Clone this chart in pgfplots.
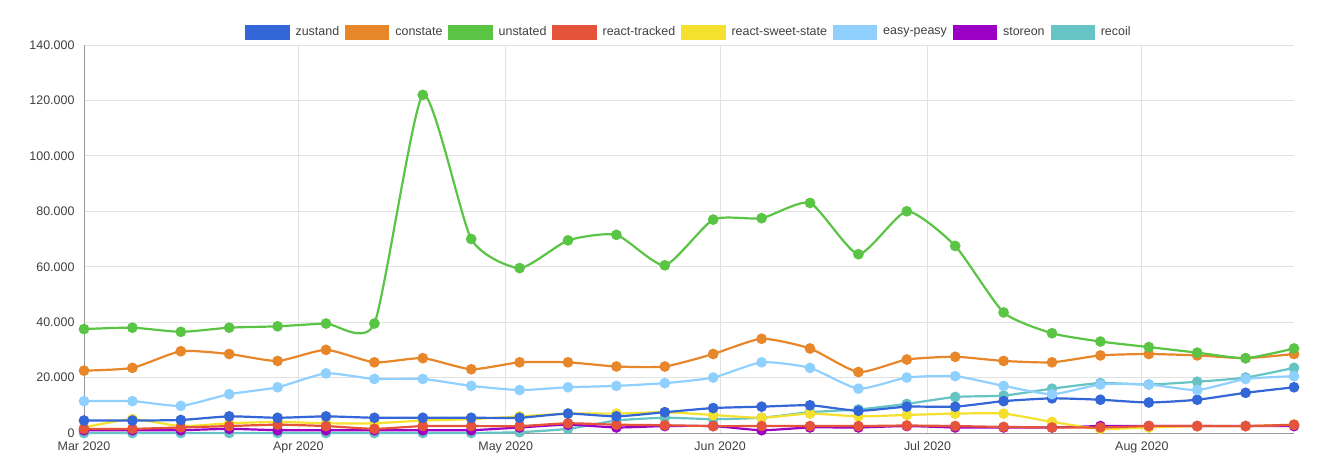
\documentclass[border=0pt]{standalone}
\usepackage{pgfplots}
\pgfplotsset{compat=1.18}
\usepackage{fontspec}
\setmainfont{Liberation Sans}
\definecolor{cz}{HTML}{3366D6}
\definecolor{cc}{HTML}{E8862A}
\definecolor{cu}{HTML}{5AC544}
\definecolor{ct}{HTML}{E5533A}
\definecolor{cs}{HTML}{F5E02E}
\definecolor{ce}{HTML}{8FD0FF}
\definecolor{co}{HTML}{9B00C5}
\definecolor{cr}{HTML}{66C4C4}
\definecolor{gr}{HTML}{E2E2E2}
\begin{document}
\begin{tikzpicture}
\begin{axis}[
  scale only axis, width=1210bp, height=388bp,
  xmin=0, xmax=175, ymin=0, ymax=140,
  xtick={0,31,61,92,122,153},
  xticklabels={Mar 2020,Apr 2020,May 2020,Jun 2020,Jul 2020,Aug 2020},
  ytick={0,20,40,60,80,100,120,140},
  yticklabels={0,20.000,40.000,60.000,80.000,100.000,120.000,140.000},
  ticklabel style={font=\fontsize{12.5}{14}\selectfont, text=black!75},
  xticklabel style={text height=9bp, text depth=3bp, yshift=-5bp},
  yticklabel style={xshift=-6bp},
  grid=major, grid style={gr, line width=0.8bp},
  axis line style={black!40}, axis x line*=bottom, axis y line*=left,
  major tick length=0pt,
  clip=false,
  every axis plot/.append style={smooth, tension=0.35, line width=2.2bp, mark=*, mark size=4.2bp, mark options={draw=white, line width=0.8bp}},
  legend columns=8,
  legend style={at={(0.5,1)}, anchor=south, yshift=3bp, draw=none, font=\fontsize{12.5}{14}\selectfont, text=black!75, column sep=4bp,
    nodes={inner xsep=2bp}},
  legend image code/.code={\fill (0bp,-6.5bp) rectangle (42bp,6.5bp);},
]
\addlegendimage{cz, fill=cz}\addlegendentry{zustand}
\addlegendimage{cc, fill=cc}\addlegendentry{constate}
\addlegendimage{cu, fill=cu}\addlegendentry{unstated}
\addlegendimage{ct, fill=ct}\addlegendentry{react-tracked}
\addlegendimage{cs, fill=cs}\addlegendentry{react-sweet-state}
\addlegendimage{ce, fill=ce}\addlegendentry{easy-peasy}
\addlegendimage{co, fill=co}\addlegendentry{storeon}
\addlegendimage{cr, fill=cr}\addlegendentry{recoil}
% recoil
\addplot[cr, forget plot, mark options={fill=cr}] coordinates {(0,0)(7,0)(14,0)(21,0)(28,0)(35,0)(42,0)(49,0)(56,0)(63,0.3)(70,1.5)(77,4.5)(84,5.5)(91,5)(98,5.5)(105,7.5)(112,8.5)(119,10.5)(126,13)(133,13.5)(140,16)(147,18)(154,17.5)(161,18.5)(168,20)(175,23.5)};
% storeon
\addplot[co, forget plot, mark options={fill=co}] coordinates {(0,1)(7,1)(14,1)(21,1.5)(28,1)(35,1)(42,1)(49,1)(56,1)(63,2)(70,3)(77,2)(84,2.5)(91,2.5)(98,1)(105,2)(112,2)(119,2.5)(126,2)(133,2)(140,2)(147,2.5)(154,2.5)(161,2.5)(168,2.5)(175,2.5)};
% react-sweet-state
\addplot[cs, forget plot, mark options={fill=cs}] coordinates {(0,2)(7,5)(14,2.5)(21,3.5)(28,4)(35,3.5)(42,3.5)(49,4.5)(56,5)(63,6)(70,7)(77,7)(84,7.5)(91,6.5)(98,5.5)(105,7)(112,6)(119,6.5)(126,7)(133,7)(140,4)(147,1.5)(154,2)(161,2.5)(168,2.5)(175,3)};
% react-tracked
\addplot[ct, forget plot, mark options={fill=ct}] coordinates {(0,1.5)(7,1.5)(14,2)(21,2.5)(28,3)(35,2.5)(42,1.5)(49,2.5)(56,2.5)(63,2.5)(70,3.5)(77,3)(84,2.8)(91,2.5)(98,2.5)(105,2.5)(112,2.5)(119,2.7)(126,2.5)(133,2.2)(140,2)(147,2)(154,2.5)(161,2.5)(168,2.5)(175,3)};
% zustand
\addplot[cz, forget plot, mark options={fill=cz}] coordinates {(0,4.5)(7,4.5)(14,4.7)(21,6)(28,5.5)(35,6)(42,5.5)(49,5.5)(56,5.5)(63,5.5)(70,7)(77,6)(84,7.5)(91,9)(98,9.5)(105,10)(112,8)(119,9.5)(126,9.5)(133,11.5)(140,12.5)(147,12)(154,11)(161,12)(168,14.5)(175,16.5)};
% easy-peasy
\addplot[ce, forget plot, mark options={fill=ce}] coordinates {(0,11.5)(7,11.5)(14,9.8)(21,14)(28,16.5)(35,21.5)(42,19.5)(49,19.5)(56,17)(63,15.5)(70,16.5)(77,17)(84,18)(91,20)(98,25.5)(105,23.5)(112,16)(119,20)(126,20.5)(133,17)(140,14)(147,17.5)(154,17.5)(161,15.5)(168,19.5)(175,20.5)};
% constate
\addplot[cc, forget plot, mark options={fill=cc}] coordinates {(0,22.5)(7,23.5)(14,29.5)(21,28.5)(28,26)(35,30)(42,25.5)(49,27)(56,23)(63,25.5)(70,25.5)(77,24)(84,24)(91,28.5)(98,34)(105,30.5)(112,22)(119,26.5)(126,27.5)(133,26)(140,25.5)(147,28)(154,28.5)(161,28)(168,27)(175,28.5)};
% unstated
\addplot[cu, forget plot, mark options={fill=cu}] coordinates {(0,37.5)(7,38)(14,36.5)(21,38)(28,38.5)(35,39.5)(42,39.5)(49,122)(56,70)(63,59.5)(70,69.5)(77,71.5)(84,60.5)(91,77)(98,77.5)(105,83)(112,64.5)(119,80)(126,67.5)(133,43.5)(140,36)(147,33)(154,31)(161,29)(168,27)(175,30.5)};
\end{axis}
\path (current axis.south west) ++(-84bp,-41bp) rectangle ++(1327bp,474bp);
\end{tikzpicture}
\end{document}
